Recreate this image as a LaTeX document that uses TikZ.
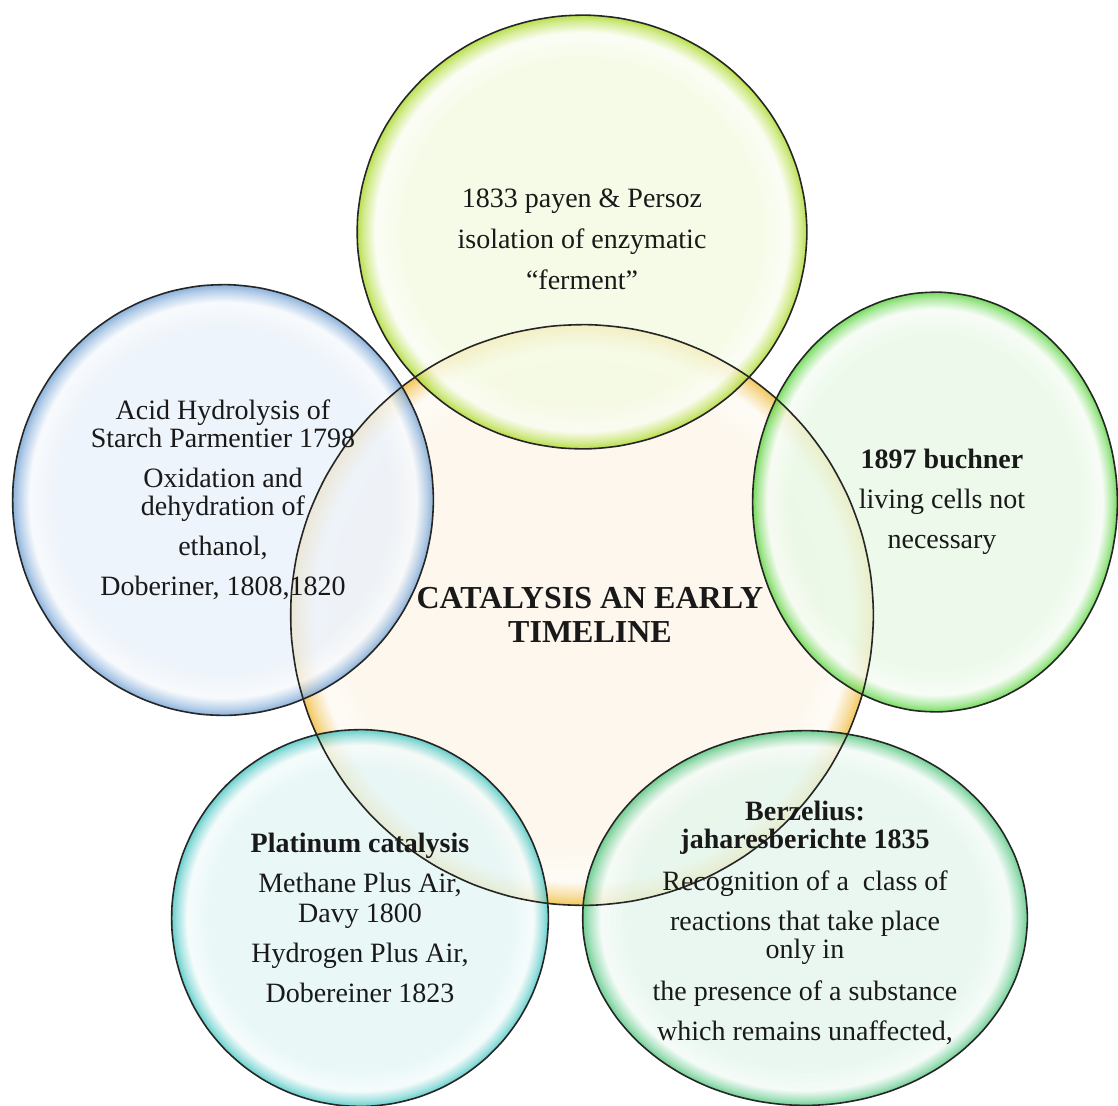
\documentclass[tikz,border=0pt]{standalone}
\usepackage{fontspec}
\setmainfont{Liberation Serif}
\usetikzlibrary{shapes.geometric}

% bubble colours: inner tint and rim
\definecolor{topin}{HTML}{F4FBE2}
\definecolor{toprim}{HTML}{A8D820}
\definecolor{leftin}{HTML}{EAF1FA}
\definecolor{leftrim}{HTML}{6E9FD3}
\definecolor{rightin}{HTML}{E8F9E6}
\definecolor{rightrim}{HTML}{55D438}
\definecolor{midin}{HTML}{FDF6E8}
\definecolor{midrim}{HTML}{F0B830}
\definecolor{blin}{HTML}{E3F6F6}
\definecolor{blrim}{HTML}{3FC4C0}
\definecolor{brin}{HTML}{E3F6EC}
\definecolor{brrim}{HTML}{4CC47A}

\newcommand{\bubbleshade}[3]{%
  \pgfdeclareradialshading{#1}{\pgfpoint{0bp}{0bp}}{%
    color(0bp)=(#2); color(20bp)=(#2); color(23bp)=(#2!40!white);
    color(24.3bp)=(#3!55!#2); color(25bp)=(#3); color(50bp)=(#3)}}
\bubbleshade{topshade}{topin}{toprim}
\bubbleshade{leftshade}{leftin}{leftrim}
\bubbleshade{rightshade}{rightin}{rightrim}
\bubbleshade{midshade}{midin}{midrim}
\bubbleshade{blshade}{blin}{blrim}
\bubbleshade{brshade}{brin}{brrim}

\tikzset{
  bubble/.style={ellipse, inner sep=0pt, fill opacity=0.78},
  rimline/.style={draw=black!85, line width=0.8pt},
  txt/.style={align=center, font=\fontsize{14}{14}\selectfont, text=black!90, inner sep=0pt}
}

\begin{document}
\begin{tikzpicture}[x=0.5pt, y=-0.5pt]
\useasboundingbox (0,0) rectangle (1118,1105);
\fill[white] (0,0) rectangle (1118,1105);
% bubbles
\node[bubble, shading=midshade, minimum width=291pt, minimum height=290pt] (mid) at (582,615){};
\node[bubble, shading=topshade, minimum width=224.5pt, minimum height=216.5pt] (top) at (582,232){};
\node[bubble, shading=leftshade, minimum width=210pt, minimum height=215pt] (left) at (223,500){};
\node[bubble, shading=rightshade, minimum width=182pt, minimum height=209.5pt] (right) at (935,502){};
\node[bubble, shading=blshade, minimum width=188pt, minimum height=188pt] (botleft) at (360,918){};
\node[bubble, shading=brshade, minimum width=222pt, minimum height=187pt] (botright) at (805,918){};
% outlines on top of all fills
\foreach \b in {mid,top,left,right,botleft,botright}
  \draw[rimline] plot[smooth cycle, variable=\t, samples at={0,8,...,352}] (\b.\t);
% texts
\node[txt, font=\fontsize{16}{17}\selectfont\bfseries] (midtxt) at (590,615){CATALYSIS AN EARLY\\TIMELINE};
\node[txt] (toptxt) at (582,239){1833 payen \& Persoz\\[6.5pt]isolation of enzymatic\\[6.5pt]``ferment''};
\node[txt] (lefttxt) at (left){Acid Hydrolysis of\\Starch Parmentier 1798\\[6pt]Oxidation and\\dehydration of\\[6pt]ethanol,\\[6pt]Doberiner, 1808,1820};
\node[txt] (righttxt) at (942,502){\textbf{1897 buchner}\\[6pt]living cells not\\[6pt]necessary};
\node[txt] (bltxt) at (botleft){\textbf{Platinum catalysis}\\[6pt]Methane Plus Air,\\[1pt]Davy 1800\\[6pt]Hydrogen Plus Air,\\[6pt]Dobereiner 1823};
\node[txt] (brtxt) at (805,923){\textbf{Berzelius:}\\\textbf{jaharesberichte 1835}\\[7pt]Recognition of a\ \ class of\\[6pt]reactions that take place\\only in\\[7pt]the presence of a substance\\[6pt]which remains unaffected,};
\end{tikzpicture}
\end{document}
